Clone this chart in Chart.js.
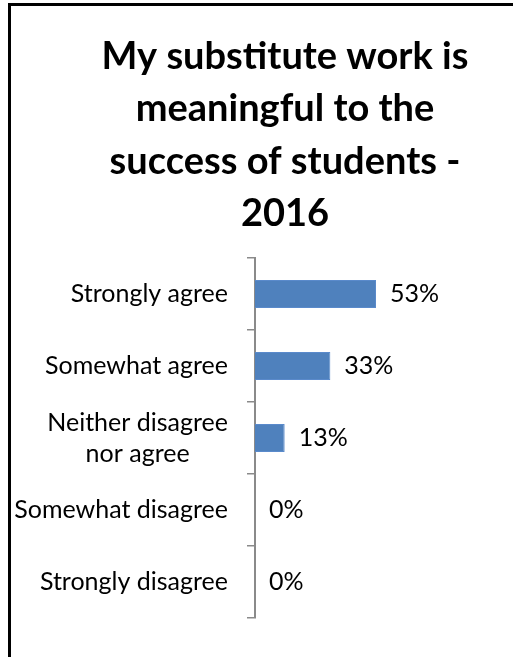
<!DOCTYPE html>
<html>
<head>
<meta charset="utf-8">
<script src="https://cdn.jsdelivr.net/npm/chart.js@4/dist/chart.umd.min.js"></script>
<style>
  html, body { margin: 0; padding: 0; background: #fff; overflow: hidden; }
  #frame {
    position: absolute; left: 8px; top: 3px; width: 600px; height: 670px;
    border-top: 3px solid #000; border-left: 3px solid #000;
  }
  #chart { position: absolute; left: 0; top: 0; }
</style>
</head>
<body>
<div id="frame"></div>
<!-- the chart box runs past the right edge of the window -->
<canvas id="chart" width="570" height="657"></canvas>
<script>
// Survey answers and their shares (percent of respondents)
const titleLines = ['My substitute work is', 'meaningful to the', 'success of students -', '2016'];
const answers = [
    'Strongly agree',
    'Somewhat agree',
    ['Neither disagree', 'nor agree'],
    'Somewhat disagree',
    'Strongly disagree'
];
const shares = [53, 33, 13, 0, 0];
const axisMax = 60;

const FONT = 'Lato';
const LABEL_SIZE = 25;

// Wrapped category labels are centred line by line, the block stays right-aligned
const centerWrappedLabels = {
    id: 'centerWrappedLabels',
    beforeDraw(chart) {
        const ctx = chart.ctx;
        chart.scales.y.getLabelItems().forEach(item => {
            if (!Array.isArray(item.label) || item._centered) return;
            ctx.save();
            ctx.font = item.font.string;
            const widest = Math.max(...item.label.map(l => ctx.measureText(l).width));
            ctx.restore();
            item.options.translation[0] -= widest / 2;
            item.options.textAlign = 'center';
            item._centered = true;
        });
    }
};

// Percent labels just past the end of each bar
const valueLabels = {
    id: 'valueLabels',
    afterDatasetsDraw(chart) {
        const ctx = chart.ctx;
        const meta = chart.getDatasetMeta(0);
        ctx.save();
        ctx.font = `${LABEL_SIZE}px ${FONT}`;
        ctx.fillStyle = '#000';
        ctx.textAlign = 'left';
        ctx.textBaseline = 'middle';
        meta.data.forEach((bar, i) => {
            ctx.fillText(shares[i] + '%', bar.x + 14, bar.y);
        });
        ctx.restore();
    }
};

function drawChart() {
    new Chart(document.getElementById('chart'), {
        type: 'bar',
        data: {
            labels: answers,
            datasets: [{
                data: shares,
                backgroundColor: '#4F81BD',
                borderColor: '#5A8ACB',
                borderWidth: 1,
                categoryPercentage: 1,
                barPercentage: 0.39
            }]
        },
        options: {
            indexAxis: 'y',
            responsive: false,
            animation: false,
            layout: { padding: { top: 0, right: 0, bottom: 39, left: 0 } },
            plugins: {
                legend: { display: false },
                tooltip: { enabled: false },
                title: {
                    display: true,
                    text: titleLines,
                    color: '#000',
                    font: { family: FONT, size: 38, weight: 'bold', lineHeight: 52.5 / 38 },
                    padding: { top: 30, bottom: 18 }
                }
            },
            scales: {
                x: { display: false, min: 0, max: axisMax },
                y: {
                    afterFit(scale) { scale.width = 255; },
                    border: { display: true, color: '#8A8A8A', width: 2 },
                    grid: {
                        drawOnChartArea: false,
                        drawTicks: true,
                        tickLength: 8,
                        color: '#8A8A8A',
                        lineWidth: 1.5
                    },
                    ticks: {
                        color: '#000',
                        padding: 19,
                        font: { family: FONT, size: LABEL_SIZE, lineHeight: 1.24 }
                    }
                },
                // blank strip on the right: room for the value labels
                yRight: {
                    type: 'category',
                    position: 'right',
                    afterFit(scale) { scale.width = 178; },
                    border: { display: false },
                    grid: { display: false },
                    ticks: { display: false }
                }
            }
        },
        plugins: [centerWrappedLabels, valueLabels]
    });
}

document.fonts.load(`${LABEL_SIZE}px ${FONT}`)
    .then(() => document.fonts.load(`bold 38px ${FONT}`))
    .then(drawChart, drawChart);
</script>
</body>
</html>
